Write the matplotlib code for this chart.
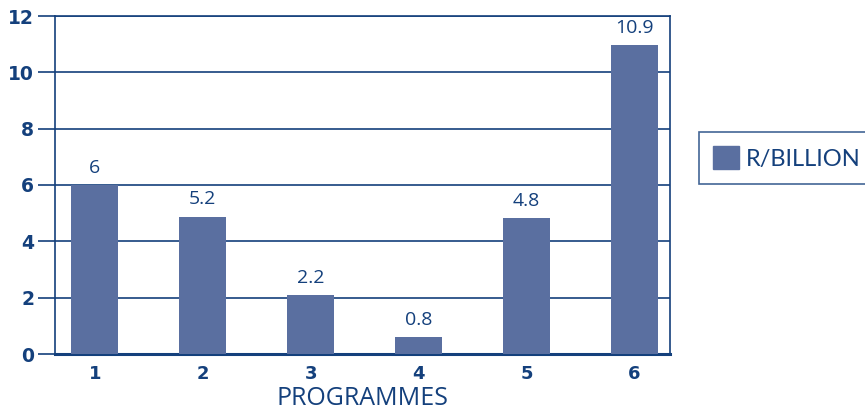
import matplotlib.pyplot as plt
from matplotlib.patches import Patch

programmes = ['1', '2', '3', '4', '5', '6']
bar_heights = [6.0, 4.88, 2.1, 0.6, 4.83, 10.97]
bar_labels = ['6', '5.2', '2.2', '0.8', '4.8', '10.9']
y_ticks = [0, 2, 4, 6, 8, 10, 12]
series_name = 'R/BILLION'

bar_color = '#5a6fa0'
navy = '#14407c'

fig = plt.figure(figsize=(8.65, 4.12), dpi=100)
ax = fig.add_axes([55 / 865, 58 / 412, 615 / 865, 338 / 412])

x = range(len(programmes))
bars = ax.bar(x, bar_heights, width=0.435, color=bar_color, zorder=3)

for rect, label in zip(bars, bar_labels):
    ax.annotate(label, (rect.get_x() + rect.get_width() / 2, rect.get_height()),
                xytext=(0, 6), textcoords='offset points', ha='center', va='bottom',
                fontsize=14, color=navy, family='Open Sans', zorder=4)

ax.set_xlim(-0.37, 5.33)
ax.set_ylim(0, 12)
ax.set_yticks(y_ticks)
ax.set_xticks(list(x))
ax.set_xticklabels(programmes)
ax.yaxis.grid(True, color=navy, linewidth=1.2, zorder=1)

ax.tick_params(axis='y', length=12, width=1.2, color=navy, pad=3,
               labelsize=13.5, labelcolor=navy)
ax.tick_params(axis='x', length=0, pad=8, labelsize=13, labelcolor=navy)
for lbl in ax.get_xticklabels() + ax.get_yticklabels():
    lbl.set_fontweight('bold')

for side in ['left', 'right', 'top']:
    ax.spines[side].set_color(navy)
    ax.spines[side].set_linewidth(1.2)
ax.spines['bottom'].set_color(navy)
ax.spines['bottom'].set_linewidth(2.2)

ax.set_xlabel('PROGRAMMES', fontsize=18, color=navy, family='Open Sans', labelpad=2)

leg = fig.legend(handles=[Patch(color=bar_color, label=series_name)],
                 loc='upper left', bbox_to_anchor=(699 / 865, 1 - 132 / 412),
                 borderaxespad=0, frameon=True, fancybox=False, edgecolor=navy,
                 handlelength=1.1, handleheight=1.1, handletextpad=0.3,
                 borderpad=0.6, prop={'family': 'Lato', 'size': 17})
leg.get_frame().set_linewidth(1.2)
for t in leg.get_texts():
    t.set_color(navy)

fig.savefig('out.png', dpi=100)
